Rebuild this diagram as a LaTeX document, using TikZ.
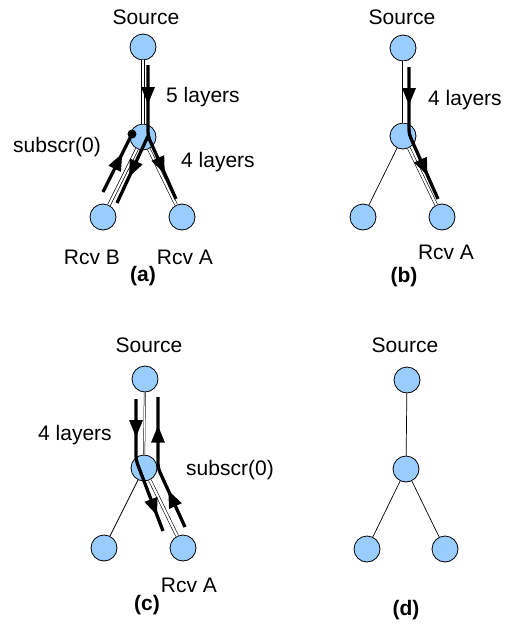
\documentclass[tikz,border=0pt]{standalone}
\usepackage{fontspec}
\setmainfont{Liberation Sans}
\usetikzlibrary{decorations.markings}
\definecolor{nodeblue}{HTML}{99CCFF}
\newcommand{\arrtri}{\fill[black,sharp corners] (2pt,0pt) -- (-15pt,7pt) -- (-15pt,-7pt) -- cycle;}
\tikzset{
  nd/.style={circle,draw=black,fill=nodeblue,line width=0.8pt,minimum size=26pt,inner sep=0pt},
  lbl/.style={font=\fontsize{21}{25}\selectfont,inner sep=0pt},
  captxt/.style={font=\fontsize{21}{25}\selectfont\bfseries,inner sep=0pt},
  plainedge/.style={line width=0.7pt},
  dbl/.style={double=white,double distance=2.2pt,line width=0.6pt},
  dblthin/.style={double=white,double distance=0.9pt,line width=0.5pt},
  flow/.style={line width=3.3pt,line join=round,rounded corners=4pt,postaction={decorate}},
  mydot/.style={circle,fill=black,minimum size=9pt,inner sep=0pt}
}
\begin{document}
\begin{tikzpicture}[x=1pt,y=-1pt]
\useasboundingbox (0,0) rectangle (511,627);
% ---------- (a)
\node[nd] (aS) at (143,47) {};
\node[nd] (aM) at (143,137) {};
\node[nd] (aL) at (103,217) {};
\node[nd] (aR) at (182,217) {};
\node[lbl] at (146,17) {Source};
\node[lbl] at (92,257) {Rcv B};
\node[lbl] at (185,257) {Rcv A};
\node[captxt] at (143,276) {(a)};
\node[lbl] at (203,97) {5 layers};
\node[lbl] at (218,162) {4 layers};
\node[lbl] at (57,147) {subscr(0)};
\draw[dbl] (aS) -- (aM);
\draw[dbl] (aM) -- (aL);
\draw[dbl] (aM) -- (aR);
\coordinate (a1) at (148,65);
\coordinate (a2) at (148,136);
\coordinate (a3) at (176,199);
\coordinate (a4) at (117,203);
\coordinate (a5) at (103,192);
\node[mydot] (adot) at (132,134) {};
\draw[flow,decoration={markings,mark=at position 37pt with {\arrtri},mark=at position 110pt with {\arrtri}}] (a1) -- (a2) -- (a3);
\draw[flow,decoration={markings,mark=at position 43pt with {\arrtri}}] (a2) -- (a4);
\draw[flow,decoration={markings,mark=at position 41pt with {\arrtri}}] (a5) -- (adot.center);
% ---------- (b)
\node[nd] (bS) at (403,48) {};
\node[nd] (bM) at (403,136) {};
\node[nd] (bL) at (363,217) {};
\node[nd] (bR) at (442,217) {};
\node[lbl] at (402,17) {Source};
\node[lbl] at (465,100) {4 layers};
\node[lbl] at (446,252) {Rcv A};
\node[captxt] at (404,277) {(b)};
\draw[dblthin] (bS) -- (bM);
\draw[plainedge] (bM) -- (bL);
\draw[dbl] (bM) -- (bR);
\coordinate (b1) at (409,67);
\coordinate (b2) at (409,134);
\coordinate (b3) at (438,199);
\draw[flow,decoration={markings,mark=at position 36pt with {\arrtri},mark=at position 110pt with {\arrtri}}] (b1) -- (b2) -- (b3);
% ---------- (c)
\node[nd] (cS) at (145,379) {};
\node[nd] (cM) at (144,468) {};
\node[nd] (cL) at (104,548) {};
\node[nd] (cR) at (183,548) {};
\node[lbl] at (149,345) {Source};
\node[lbl] at (75,435) {4 layers};
\node[lbl] at (230,470) {subscr(0)};
\node[lbl] at (189,585) {Rcv A};
\node[captxt] at (147,605) {(c)};
\draw[dblthin] (cS) -- (cM);
\draw[plainedge] (cM) -- (cL);
\draw[dbl] (cM) -- (cR);
\coordinate (c1) at (136,399);
\coordinate (c2) at (136,460);
\coordinate (c3) at (163,531);
\coordinate (c4) at (185,527);
\coordinate (c5) at (158,468);
\coordinate (c6) at (158,397);
\draw[flow,decoration={markings,mark=at position 36pt with {\arrtri},mark=at position 118pt with {\arrtri}}] (c1) -- (c2) -- (c3);
\draw[flow,decoration={markings,mark=at position 38pt with {\arrtri},mark=at position 105pt with {\arrtri}}] (c4) -- (c5) -- (c6);
% ---------- (d)
\node[nd] (dS) at (407,380) {};
\node[nd] (dM) at (406,469) {};
\node[nd] (dL) at (367,549) {};
\node[nd] (dR) at (445,549) {};
\node[lbl] at (405,345) {Source};
\node[captxt] at (406,610) {(d)};
\draw[plainedge] (dS) -- (dM);
\draw[plainedge] (dM) -- (dL);
\draw[plainedge] (dM) -- (dR);
\end{tikzpicture}
\end{document}
